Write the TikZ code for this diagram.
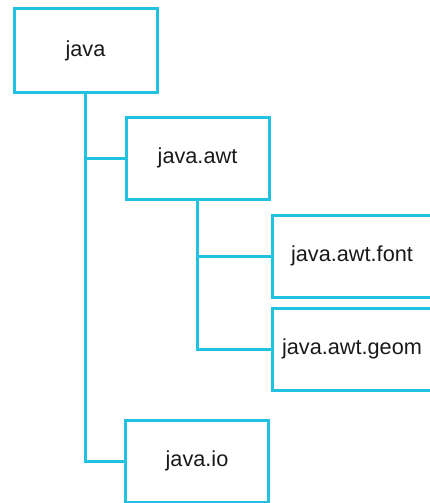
\documentclass[tikz,border=0pt]{standalone}
\usepackage{fontspec}
\setmainfont{Liberation Sans}
\definecolor{pkgline}{RGB}{32,194,224}
\begin{document}
\begin{tikzpicture}[x=1pt,y=-1pt,
	pkg/.style={draw=pkgline,line width=3pt,inner sep=0pt,minimum height=82pt,
		font=\fontsize{21.7}{24}\selectfont,text=black!90},
	link/.style={draw=pkgline,line width=3pt}]
\useasboundingbox (0,0) rectangle (430,503);
\path
	(85.5,50.5) node [pkg,minimum width=143pt,minimum height=83pt] (java) {java}
	(197.5,158) node [pkg,minimum width=143pt] (awt) {java.awt}
	(352,256) node [pkg,minimum width=160pt] (font) {java.awt.font}
	(352,349) node [pkg,minimum width=160pt] (geom) {java.awt.geom}
	(197,461) node [pkg,minimum width=143pt] (io) {java.io};
\draw [link] (java.south) |- (io.west);
\draw [link] (java.south |- awt.west) -- (awt.west);
\draw [link] (awt.south) |- (geom.west);
\draw [link] (awt.south |- font.west) -- (font.west);
\end{tikzpicture}
\end{document}
